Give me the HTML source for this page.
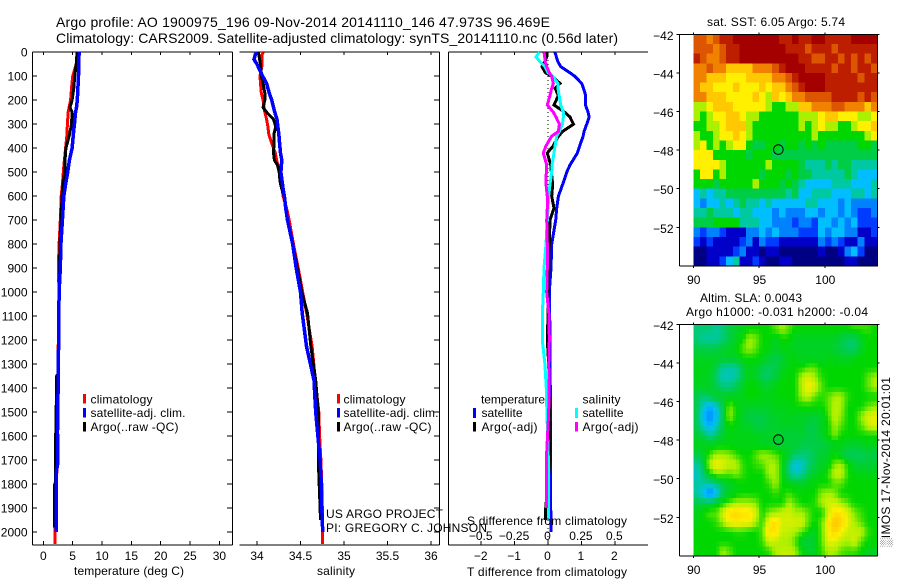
<!DOCTYPE html>
<html lang="en">
<head>
<meta charset="utf-8">
<title>Argo profile 1900975_196</title>
<style>
html,body{margin:0;padding:0;background:#fff;width:900px;height:580px;overflow:hidden}
svg{display:block}
text{font-family:"Liberation Sans",sans-serif;font-size:12px;fill:#000}
.t{font-size:14px}
</style>
</head>
<body>
<svg id="chart" xmlns="http://www.w3.org/2000/svg" width="900" height="580" viewBox="0 0 900 580">
  <text class="t" x="56" y="27" textLength="494" lengthAdjust="spacing">Argo profile: AO 1900975_196 09-Nov-2014 20141110_146 47.973S 96.469E</text>
  <text class="t" x="56" y="43" textLength="562" lengthAdjust="spacing">Climatology: CARS2009. Satellite-adjusted climatology: synTS_20141110.nc (0.56d later)</text>

  <g id="layer-maps"></g>
  <g id="layer-axes"></g>
  <g id="layer-series"></g>

  <text x="74" y="575" textLength="110" lengthAdjust="spacing">temperature (deg C)</text>
  <text x="317" y="575" textLength="38" lengthAdjust="spacing">salinity</text>
  <text x="467" y="576" textLength="160" lengthAdjust="spacing">T difference from climatology</text>
  <text x="467" y="525" textLength="160" lengthAdjust="spacing">S difference from climatology</text>

  <g>
    <rect x="83" y="394" width="3" height="9.5" fill="#f00"/>
    <rect x="83" y="408" width="3" height="9.5" fill="#00f"/>
    <rect x="83" y="422" width="3" height="9.5" fill="#000"/>
    <text x="90.5" y="403.5" textLength="62" lengthAdjust="spacing">climatology</text>
    <text x="90.5" y="417" textLength="95" lengthAdjust="spacing">satellite-adj. clim.</text>
    <text x="90.5" y="431" textLength="88" lengthAdjust="spacing">Argo(..raw -QC)</text>
  </g>
  <g>
    <rect x="337" y="394" width="3" height="9.5" fill="#f00"/>
    <rect x="337" y="408" width="3" height="9.5" fill="#00f"/>
    <rect x="337" y="422" width="3" height="9.5" fill="#000"/>
    <text x="343.5" y="403.5" textLength="62" lengthAdjust="spacing">climatology</text>
    <text x="343.5" y="417" textLength="95" lengthAdjust="spacing">satellite-adj. clim.</text>
    <text x="343.5" y="431" textLength="88" lengthAdjust="spacing">Argo(..raw -QC)</text>
  </g>
  <g>
    <text x="481" y="403.5" textLength="64" lengthAdjust="spacing">temperature</text>
    <rect x="473" y="408" width="3" height="10" fill="#00f"/>
    <text x="481.5" y="417" textLength="41" lengthAdjust="spacing">satellite</text>
    <rect x="473" y="422" width="3" height="9.5" fill="#000"/>
    <text x="481.5" y="431" textLength="56" lengthAdjust="spacing">Argo(-adj)</text>
    <text x="582.5" y="403.5" textLength="38" lengthAdjust="spacing">salinity</text>
    <rect x="575" y="408" width="3" height="10" fill="#0ff"/>
    <text x="582.5" y="417" textLength="41" lengthAdjust="spacing">satellite</text>
    <rect x="575" y="422" width="3" height="9.5" fill="#f0f"/>
    <text x="582.5" y="431" textLength="56" lengthAdjust="spacing">Argo(-adj)</text>
  </g>

  <text x="326" y="518" textLength="117" lengthAdjust="spacing">US ARGO PROJECT</text>
  <text x="326" y="532" textLength="161" lengthAdjust="spacing">PI: GREGORY C. JOHNSON</text>

  <text x="707" y="26" textLength="138" lengthAdjust="spacing">sat. SST: 6.05 Argo: 5.74</text>
  <text x="700" y="302" textLength="102" lengthAdjust="spacing">Altim. SLA: 0.0043</text>
  <text x="686" y="316" textLength="182" lengthAdjust="spacing">Argo h1000: -0.031 h2000: -0.04</text>
  <text transform="translate(890,547) rotate(-90)" textLength="170" lengthAdjust="spacing">░IMOS 17-Nov-2014 20:01:01</text>
</svg>

<script>
/* ---------- profile data ---------- */
const tempDepths = [0,50,100,150,200,230,250,300,350,400,450,500,550,600,700,800,900,1000,1200,1340,1350,1500,1580,1590,1720,1750,1790,1800,1950,1980,2000,2050];
const tempClim   = [5.8,5.6,5.0,4.8,4.65,4.4,4.25,4.1,4.0,3.8,3.6,3.4,3.25,3.05,2.9,2.7,2.55,2.7,2.55,2.5,2.5,2.42,2.38,2.38,2.32,2.3,2.25,2.25,2.2,2.0,2.0,2.0];
const tempSat    = [6.1,6.05,6.0,5.9,5.8,5.65,5.5,5.3,5.1,4.9,4.45,4.15,3.8,3.5,3.25,3.0,2.9,2.7,2.6,2.55,2.55,2.45,2.42,2.42,2.42,2.2,2.2,2.2,2.2,2.2,2.2,null];
const tempArgo   = [5.75,5.6,5.35,5.2,4.9,4.55,4.9,4.8,4.4,3.85,3.7,3.65,3.35,3.2,3.0,2.85,2.75,2.7,2.6,2.55,2.25,2.2,2.2,2.1,2.1,2.1,2.1,1.95,1.95,1.95,null,null];
const tempTicks  = [0,5,10,15,20,25,30];

const salDepths = [0,10,30,50,100,130,170,200,230,250,280,310,340,380,420,450,470,500,540,570,600,650,700,800,900,1000,1087,1228,1367,1500,1600,1700,1800,1900,1950,2000,2050];
const salClim   = [34.07,34.06,34.06,34.06,34.035,34.04,34.05,34.07,34.08,34.09,34.11,34.125,34.135,34.17,34.21,34.225,34.24,34.265,34.28,34.29,34.30,34.34,34.37,34.42,34.475,34.525,34.57,34.635,34.67,34.71,34.72,34.735,34.745,34.75,34.755,34.755,34.755];
const salSat    = [34.0,33.98,33.965,34.0,34.065,34.11,34.14,34.17,34.19,34.205,34.23,34.24,34.25,34.26,34.27,34.285,34.28,34.275,34.29,34.30,34.315,34.33,34.35,34.41,34.45,34.50,34.52,34.57,34.655,34.675,34.70,34.725,34.74,34.745,34.75,34.755,null];
const salArgo   = [34.02,34.02,34.03,34.04,34.05,34.07,34.09,34.09,34.07,34.11,34.19,34.215,34.195,34.195,34.19,34.2,34.235,34.255,34.265,34.285,34.31,34.33,34.35,34.41,34.465,34.515,34.58,34.62,34.675,34.705,34.705,34.705,34.715,34.725,34.73,null,null];
const salTicks  = [34,34.5,35,35.5,36];

const diffDepths = [0,20,40,60,85,100,130,150,180,220,250,270,300,330,350,390,420,470,500,550,600,650,700,800,900,1000,1100,1200,1300,1400,1500,1700,1900,1950,2000];
const diffTSat   = [0.21,0.25,0.3,0.38,0.65,0.8,1.01,1.06,1.13,1.12,1.2,1.23,1.16,1.08,1.05,0.95,0.88,0.66,0.56,0.44,0.31,0.26,0.23,0.11,0.09,0.04,0.05,0.06,0.06,0.07,0.07,0.07,0.08,0.09,0.09];
const diffTArgo  = [-0.02,-0.04,-0.1,-0.18,-0.08,0.11,0.36,0.21,0.31,0.18,0.5,0.66,0.76,0.44,0.31,0.16,-0.02,0.08,0.1,0.14,0.11,0.18,0.06,0.04,0.03,0,0,-0.02,0.02,0.03,0.05,0.06,-0.07,-0.07,null];
const diffSSat   = [-0.065,-0.09,-0.06,-0.023,0,0.035,0.073,0.075,0.083,0.095,0.115,0.115,0.108,0.085,0.065,0.053,0.045,0.03,0.028,0.015,0.005,0,-0.005,-0.015,-0.03,-0.035,-0.043,-0.043,-0.023,-0.013,-0.008,0.003,0.003,0.003,null];
const diffSArgo  = [-0.03,-0.025,-0.02,-0.01,0.01,0.028,0.04,0.028,0.015,-0.005,0.04,0.06,0.085,0.078,0.028,-0.015,-0.035,-0.01,-0.013,-0.015,-0.005,-0.005,-0.01,-0.005,-0.005,-0.01,0.008,0.01,0.005,0.008,0.005,-0.013,-0.013,null,null];
const diffTTicks = [-2,-1,0,1,2];
const diffSTicks = [-0.5,-0.25,0,0.25,0.5];
const depthTicks = [0,100,200,300,400,500,600,700,800,900,1000,1100,1200,1300,1400,1500,1600,1700,1800,1900,2000];

/* ---------- map data: colour-scale levels, rows from 42S to 54S, columns from 90E to 104E ---------- */
const sstGrid = [
[12,12,11,12,13,13,14,14,14,14,14,14,14,13,13,14,13,13,14,14,13,13,13,13,14,14,14,14],
[12,12,12,11,12,13,13,14,14,14,14,14,14,14,13,13,13,12,13,13,13,12,13,13,13,13,13,13],
[13,12,11,11,12,13,13,14,14,14,14,14,14,14,14,14,13,13,12,12,13,13,12,13,12,13,12,13],
[11,11,12,11,11,10,10,10,10,11,11,11,12,13,14,14,14,13,13,13,13,12,13,13,12,13,13,12],
[11,11,10,10,10,9,9,9,10,10,10,10,11,11,12,13,14,14,14,14,13,13,13,13,13,12,13,13],
[11,10,10,9,9,9,10,9,9,9,10,9,10,10,11,12,13,14,14,14,13,13,13,13,13,13,13,13],
[11,11,10,10,10,9,9,9,9,10,9,8,10,9,10,11,11,12,12,12,12,13,13,13,13,12,13,12],
[8,8,9,10,10,10,9,9,9,9,9,8,7,7,8,8,10,10,11,11,11,12,12,11,11,11,10,11],
[8,7,8,9,9,10,10,9,8,8,7,7,7,7,7,7,8,8,8,9,10,10,9,9,9,8,8,9],
[7,7,8,8,9,10,10,10,8,7,7,7,7,7,7,7,8,7,8,9,8,8,7,7,8,9,9,10],
[8,7,7,8,9,9,10,9,8,7,7,7,7,7,7,7,7,7,8,7,7,7,7,7,7,7,8,9],
[8,9,7,8,7,8,9,9,7,6,6,7,7,6,7,7,6,7,6,7,6,6,6,6,6,7,7,6],
[9,9,9,7,7,7,7,7,6,7,7,7,6,6,6,6,6,6,6,6,6,6,6,6,6,6,6,6],
[9,9,9,9,8,7,7,7,7,7,7,8,7,7,7,7,6,5,5,5,6,5,6,6,5,5,5,5],
[7,9,9,7,8,7,7,7,7,7,6,7,7,7,6,7,6,6,5,5,5,5,5,6,5,4,4,4],
[7,7,7,6,7,7,7,7,7,8,7,7,7,6,7,6,5,4,4,4,4,5,5,5,4,4,4,5],
[4,5,4,5,5,6,6,6,6,6,6,6,6,6,5,6,4,4,5,5,5,4,4,4,5,5,4,5],
[4,3,4,4,5,4,5,6,5,5,4,5,4,4,4,4,4,5,5,4,4,4,3,4,3,3,3,3],
[5,5,6,5,5,5,4,5,5,4,4,4,3,4,3,3,3,4,4,3,4,4,3,4,3,2,2,3],
[6,6,6,7,7,7,7,5,5,5,4,4,3,3,3,2,3,3,2,4,4,3,4,3,4,2,2,2],
[3,2,3,3,2,1,1,1,3,3,4,3,4,3,3,3,2,2,2,4,3,4,4,3,3,1,1,2],
[2,1,2,1,1,1,1,2,3,1,3,2,2,1,1,1,1,1,1,3,2,3,2,1,1,3,1,1],
[0,0,1,1,1,1,2,3,1,1,0,1,1,0,0,0,0,0,0,1,0,0,1,3,4,2,0,0],
[0,0,1,1,2,4,5,1,1,2,1,0,0,1,1,0,0,0,0,0,0,0,0,1,1,0,0,0]
];
const slaGrid = [
[5.5,5.5,5.5,5,5.5,6,6.5,6.5,7,7,7,7,7.5,8,7.5,7,7,7,7,7,7,7,7,7,7.3,7.3,7.3,7],
[5.5,5,5,5,5.5,6,6.5,7,8,7.7,7,7,6.5,7,7,6.5,6.5,6.5,6.5,6.5,6.5,6.5,6,5.8,5.6,6.5,7,7],
[6,6,6,6,6.3,6.5,6.8,7.5,8,7.5,7,6.8,6.5,6.7,6.8,6.5,6.5,6.5,6.5,6.5,6.5,6.3,6,5.6,5.6,6.5,7,7],
[6.5,6.5,6.5,6.5,6.5,6.5,6.5,7,7,7,6.8,6.3,6,6.2,6.8,6.8,6.5,6.5,6.5,6.5,6.7,6.7,6.5,6.5,6.7,7,7,7],
[6.7,6.7,6.7,6,5,5,5,6,6.7,6.5,6,5.7,6,6.5,6.7,7,7,7.5,7.5,7,7,7,7,7,7,7,7,7],
[6.7,6.7,6.5,5.5,4.7,4.7,5,6,6.8,6.5,5.7,5.7,6.2,6.8,7,7,8.2,8.5,8,7.2,7,7,7,7,7,7,7.5,8],
[6.5,6.5,6.5,6,5.5,5.5,6,6.5,7,7,6.5,6.5,6.8,7,7,7,8.2,9,8.5,7.5,7,7,7,7,7,7,7.5,8],
[6,5.5,6,6.5,6.5,6.5,6.5,6.7,7,7,6.7,6.7,6.8,7,7,7,8,8.3,7.5,7.2,7.5,8,8,7.2,7,7,7,7],
[6,4.5,3.7,4.5,6,7.7,7,6.5,6.5,6.5,6.5,6.5,6.7,6.7,6.7,7,7,7,7,7,7.5,8.2,8,7,7,7,7.5,7.8],
[6,4,3,4,6,8,7,6.5,6,6,6,6.3,6.5,6.5,6.7,6.5,6.5,6.5,6.3,6.5,7.3,8.3,7.8,7,7,7.8,8.5,8.7],
[6,4.5,3.7,4.7,6,7,6.8,6.5,6.5,6,6,6.3,6.3,6.5,6.5,6.5,6.5,6,6,6.5,7,8,7.5,7,7,7.5,8.3,8.7],
[6.3,6,5,5.7,6.3,6.8,6.7,6.7,6.7,6.7,6.5,6.5,6.5,6.2,6.2,6.2,6.3,6,6,6.5,7,7.8,7,7,7,7,7,7],
[6.7,6.7,6.7,6.8,6.8,6.8,6.7,6.7,6.7,6.7,6.5,6.5,6.3,6.3,6.3,6.3,6,6,6,6,6.3,6.5,6.7,6.5,6.3,6.5,6.7,6.7],
[6,6.5,7.3,8,8,7.8,7.3,7,7,7.5,8,7.8,7.5,7,6.5,5.7,5.5,5.5,6,6.3,6.5,7,6.3,5.7,5.8,5.8,6,6],
[5,6,8.2,9,8.7,8.3,8.2,7.3,7,7.3,7.5,8,8,7,5.5,4.2,4.5,5.5,6,6.5,6.7,7.7,8,7,6.3,6.2,6.2,6.3],
[4.5,5.5,7,7.8,7.7,7.5,7.8,7.3,7,7,7,8,8,7,5.5,4.6,5,6,6.5,6.7,7.3,8.3,8.3,7.2,6.8,6.7,6.7,6.7],
[5,5,5,5.5,6,6.5,6.8,7,7,7,7,7.3,8,7,6.8,6.5,6.5,6.7,7,7,7,7.5,7.5,7,7,7,7,7],
[5,4,2.7,4,5.8,6.5,6.8,7,7,7,7,7,7.3,7,7.3,7,7,7,7,7.8,8,7.7,7,7,7,7,7,7],
[6,6,6,6.5,7,7.5,8,8,8,7.7,7,7,7,7,8,7.5,7,7,7.2,8,8.5,8.5,8,7.5,7,7,7,7],
[6.7,7,7.5,7.5,8.5,9.5,9.7,9.3,9.3,8.5,7,7.7,8,8.3,8.5,8,8,7.5,7,7,8.3,9.3,9.3,8.5,7.7,7.3,7,7],
[6.7,7,7,7.3,8,9,9.2,9,9,8,7.2,9,9.5,8.5,8.5,8.5,8.5,7.5,7,7.5,9,10.2,9.7,8.7,8,7.5,7,7],
[7,7,7,7,7,7,7.2,7.2,7,7,7.5,9.5,9.3,8.3,8.3,8,7.5,7,6.5,7.5,9,9.7,9,8.3,8.3,8.3,7.3,7],
[7,7,7,7,7,7,7,7,7,7,7.3,8.5,8.3,8,8,7.5,6.3,6,6.5,7.5,8.7,8.7,8.2,8,8.5,7.5,7,7],
[7,7,7,7,8,7.5,7,7,7,7,7,7.2,8,8.3,8.3,8,7,6.5,6.5,7.3,8,8,7.5,7.3,7.3,7,6.5,6.5]
];
const mapLonTicks = [90,95,100];
const mapLatTicks = [42,44,46,48,50,52];
const argoLon = 96.469;
const argoLat = 47.973;

/* ---------- axis functions ---------- */
const NS = 'http://www.w3.org/2000/svg';
const axesLayer = document.getElementById('layer-axes');
const seriesLayer = document.getElementById('layer-series');
const mapsLayer = document.getElementById('layer-maps');

const yDepth = d => 52.2 + 0.24 * d;
const xTemp  = v => 43.3 + 5.87 * v;
const xSal   = v => 257 + 87 * (v - 34);
const xDiffT = v => 548 + 33.4 * v;
const xDiffS = v => 548 + 133.6 * v;
const xLon   = v => 693.3 + 13.15 * (v - 90);
const yLat1  = v => 34.3 + 19.3 * (v - 42);
const yLat2  = v => 324.3 + 19.3 * (v - 42);

const TOP = 52, BOTTOM = 545;

function seg(x1, y1, x2, y2, name, dash) {
  const el = document.createElementNS(NS, 'line');
  el.setAttribute('x1', x1);
  el.setAttribute('y1', y1);
  el.setAttribute('x2', x2);
  el.setAttribute('y2', y2);
  el.setAttribute('stroke', '#000');
  el.setAttribute('stroke-width', 1);
  el.setAttribute('shape-rendering', 'crispEdges');
  if (dash) el.setAttribute('stroke-dasharray', dash);
  
  
  axesLayer.appendChild(el);
}

function label(x, y, str, anchor, name) {
  const el = document.createElementNS(NS, 'text');
  el.setAttribute('x', x);
  el.setAttribute('y', y);
  el.setAttribute('text-anchor', anchor);
  el.textContent = str;
  
  
  axesLayer.appendChild(el);
}

function profile(depths, values, xFn, color, width, name) {
  const pts = [];
  depths.forEach((d, i) => {
    if (values[i] !== null) pts.push(xFn(values[i]).toFixed(1) + ',' + yDepth(d).toFixed(1));
  });
  const el = document.createElementNS(NS, 'polyline');
  el.setAttribute('points', pts.join(' '));
  el.setAttribute('fill', 'none');
  el.setAttribute('stroke', color);
  el.setAttribute('stroke-width', width);
  el.setAttribute('shape-rendering', 'crispEdges');
  
  
  seriesLayer.appendChild(el);
}

/* ---------- panel frames ---------- */
function panelFrame(x0, x1, leftLine, rightLine, prefix) {
  seg(x0, TOP, x1, TOP, prefix + '-top-axis');
  seg(x0, BOTTOM, x1, BOTTOM, prefix + '-bottom-axis');
  if (leftLine) seg(x0, TOP, x0, BOTTOM, prefix + '-left-axis');
  if (rightLine) seg(x1, TOP, x1, BOTTOM, prefix + '-right-axis');
}
panelFrame(32.5, 232.5, true, true, 'temperature');
panelFrame(239.5, 439.5, false, true, 'salinity');
panelFrame(448.5, 648, true, false, 'difference');

/* depth ticks */
depthTicks.forEach(d => {
  const y = yDepth(d);
  seg(32.5, y, 37, y, 'depth-tick-left');
  seg(227, y, 232.5, y, 'depth-tick-right');
  seg(434, y, 439.5, y, 'salinity-depth-tick-right');
  label(27.5, y + 4.5, String(d), 'end', 'depth-tick-label');
});

/* x ticks */
tempTicks.forEach(v => {
  const x = xTemp(v);
  seg(x, BOTTOM, x, BOTTOM - 4, 'temperature-tick-bottom');
  seg(x, TOP, x, TOP + 3, 'temperature-tick-top');
  label(x, 560, String(v), 'middle', 'temperature-tick-label');
});
salTicks.forEach(v => {
  const x = xSal(v);
  seg(x, BOTTOM, x, BOTTOM - 4, 'salinity-tick-bottom');
  seg(x, TOP, x, TOP + 3, 'salinity-tick-top');
  label(x, 560, String(v), 'middle', 'salinity-tick-label');
});
diffTTicks.forEach(v => {
  const x = xDiffT(v);
  seg(x, BOTTOM, x, BOTTOM - 4, 'difference-tick-bottom');
  seg(x, TOP, x, TOP + 3, 'difference-tick-top');
  label(x - 0.5, 560, v < 0 ? '\u2212' + Math.abs(v) : String(v), 'middle', 'difference-t-tick-label');
});
diffSTicks.forEach(v => {
  label(xDiffS(v) - 0.5, 540, v < 0 ? '\u2212' + Math.abs(v) : String(v), 'middle', 'difference-s-tick-label');
});

/* dotted zero line */
seg(xDiffT(0), TOP, xDiffT(0), BOTTOM, 'zero-difference-line', '1 3');

/* ---------- series ---------- */
profile(tempDepths, tempClim, xTemp, '#f00', 3, 'temperature-climatology-line');
profile(tempDepths, tempArgo, xTemp, '#000', 3, 'temperature-argo-line');
profile(tempDepths, tempSat, xTemp, '#00f', 3.5, 'temperature-satellite-line');

profile(salDepths, salClim, xSal, '#f00', 3, 'salinity-climatology-line');
profile(salDepths, salArgo, xSal, '#000', 3, 'salinity-argo-line');
profile(salDepths, salSat, xSal, '#00f', 3.5, 'salinity-satellite-line');

profile(diffDepths, diffTSat, xDiffT, '#00f', 3, 'diff-t-satellite-line');
profile(diffDepths, diffTArgo, xDiffT, '#000', 3, 'diff-t-argo-line');
profile(diffDepths, diffSSat, xDiffS, '#0ff', 3, 'diff-s-satellite-line');
profile(diffDepths, diffSArgo, xDiffS, '#f0f', 3, 'diff-s-argo-line');

/* ---------- maps ---------- */
const colorStops = [
  [0,0,130],[0,0,200],[0,60,255],[0,130,255],[0,190,255],[0,200,160],[0,205,70],
  [0,215,0],[170,240,0],[255,240,0],[255,200,0],[240,130,0],[220,85,0],[190,30,0],[165,0,0]
];
function levelColor(v) {
  const l = Math.max(0, Math.min(colorStops.length - 1.001, v));
  const i = Math.floor(l), f = l - i;
  const a = colorStops[i], b = colorStops[i + 1];
  return 'rgb(' + [0,1,2].map(k => Math.round(a[k] + (b[k] - a[k]) * f)).join(',') + ')';
}
function drawCell(x, y, w, h, val, name) {
  const r = document.createElementNS(NS, 'rect');
  r.setAttribute('x', x.toFixed(2));
  r.setAttribute('y', y.toFixed(2));
  r.setAttribute('width', (w + 0.4).toFixed(2));
  r.setAttribute('height', (h + 0.4).toFixed(2));
  r.setAttribute('fill', levelColor(val));
  r.setAttribute('shape-rendering', 'crispEdges');
  
  
  mapsLayer.appendChild(r);
}
/* SST map: one rectangle per grid value */
sstGrid.forEach((row, r) => {
  row.forEach((val, c) => {
    const lon0 = 90 + c * 0.5, lat0 = 42 + r * 0.5;
    drawCell(xLon(lon0), yLat1(lat0), xLon(lon0 + 0.5) - xLon(lon0), yLat1(lat0 + 0.5) - yLat1(lat0), val, 'sst-cell');
  });
});
/* SLA map: shaded smoothly, two display cells per grid value */
const slaRows = slaGrid.length, slaCols = slaGrid[0].length;
for (let r = 0; r < slaRows * 2; r++) {
  for (let c = 0; c < slaCols * 2; c++) {
    const fr = Math.max(0, Math.min(slaRows - 1, (r - 0.5) / 2));
    const fc = Math.max(0, Math.min(slaCols - 1, (c - 0.5) / 2));
    const r0 = Math.floor(fr), c0 = Math.floor(fc);
    const r1 = Math.min(slaRows - 1, r0 + 1), c1 = Math.min(slaCols - 1, c0 + 1);
    const tr = fr - r0, tc = fc - c0;
    const val = (slaGrid[r0][c0] * (1 - tc) + slaGrid[r0][c1] * tc) * (1 - tr)
              + (slaGrid[r1][c0] * (1 - tc) + slaGrid[r1][c1] * tc) * tr;
    const lon0 = 90 + c * 0.25, lat0 = 42 + r * 0.25;
    drawCell(xLon(lon0), yLat2(lat0), xLon(lon0 + 0.25) - xLon(lon0), yLat2(lat0 + 0.25) - yLat2(lat0), val, 'sla-cell');
  }
}

function mapFrame(yLat, prefix, labelY) {
  const top = yLat(42), bot = yLat(54), left = 679.5, right = 877.5;
  seg(left, top, right, top, prefix + '-top-axis');
  seg(left, bot, right, bot, prefix + '-bottom-axis');
  seg(left, top, left, bot, prefix + '-left-axis');
  seg(right, top, right, bot, prefix + '-right-axis');
  mapLonTicks.forEach(v => {
    const x = xLon(v);
    seg(x, top, x, top - 2, prefix + '-lon-tick-top');
    seg(x, bot, x, bot + 2, prefix + '-lon-tick-bottom');
    label(x + 0.5, labelY, String(v), 'middle', prefix + '-lon-tick-label');
  });
  mapLatTicks.forEach(v => {
    const y = yLat(v);
    seg(left, y, left - 3, y, prefix + '-lat-tick-left');
    seg(right, y, right + 2, y, prefix + '-lat-tick-right');
    label(673.5, y + 5.5, '\u2212' + v, 'end', prefix + '-lat-tick-label');
  });
  const m = document.createElementNS(NS, 'circle');
  m.setAttribute('cx', xLon(argoLon));
  m.setAttribute('cy', yLat(argoLat));
  m.setAttribute('r', 4.8);
  m.setAttribute('fill', 'none');
  m.setAttribute('stroke', '#000');
  m.setAttribute('stroke-width', 1);
  
  
  axesLayer.appendChild(m);
}
mapFrame(yLat1, 'sst-map', 284);
mapFrame(yLat2, 'sla-map', 574);
</script>
</body>
</html>
